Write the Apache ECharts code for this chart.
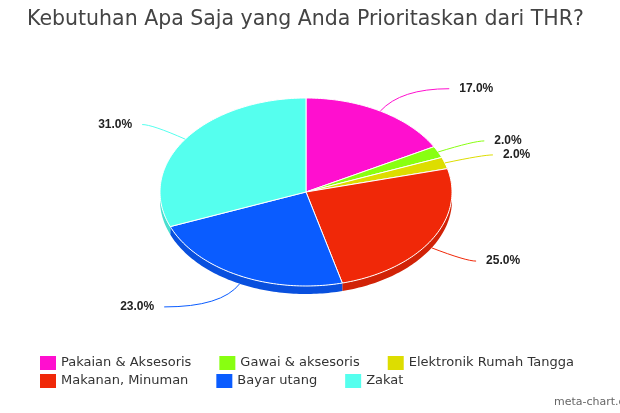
<!DOCTYPE html>
<html lang="id">
<head>
<meta charset="UTF-8">
<title>Prioritas THR</title>
<script src="https://cdn.jsdelivr.net/npm/echarts@6/dist/echarts.min.js"></script>
<style>html,body{margin:0;padding:0;background:#fff}#main{width:620px;height:413px}</style>
</head>
<body>
<div id="main"></div>
<script>
var categories = ['Pakaian & Aksesoris', 'Gawai & aksesoris', 'Elektronik Rumah Tangga', 'Makanan, Minuman', 'Bayar utang', 'Zakat'];
var values = [17, 2, 2, 25, 23, 31];
var colors = ['#ff0fcf', '#88ff11', '#dddd00', '#f02808', '#0a5cff', '#55ffee'];

var chart = echarts.init(document.getElementById('main'));

var total = values.reduce(function (a, b) { return a + b; }, 0);
var starts = [];
values.reduce(function (acc, v, i) { starts[i] = acc; return acc + v; }, 0);

// ellips pie (tampak miring)
var CX = 306, CY = 192, RX = 146, RY = 94, DEPTH = 8;

function pt(a, dy, rx, ry) {
    return [CX + rx * Math.sin(a), CY - ry * Math.cos(a) + dy];
}
function arc(a0, a1, dy) {
    var n = Math.max(2, Math.ceil((a1 - a0) / 0.02));
    var out = [];
    for (var i = 0; i <= n; i++) out.push(pt(a0 + (a1 - a0) * i / n, dy, RX, RY));
    return out;
}
function darken(hex, f) {
    var c = echarts.color.parse(hex);
    return 'rgb(' + Math.round(c[0] * f) + ',' + Math.round(c[1] * f) + ',' + Math.round(c[2] * f) + ')';
}

function renderSlice(idx) {
    return function (params, api) {
        var a0 = starts[idx] / total * 2 * Math.PI;
        var a1 = (starts[idx] + values[idx]) / total * 2 * Math.PI;
        var children = [];
        // sisi depan (3D)
        var s = Math.max(a0, Math.PI / 2), e = Math.min(a1, 3 * Math.PI / 2);
        if (e > s) {
            var top = arc(s, e, 0), bot = arc(s, e, DEPTH).reverse();
            children.push({type: 'polygon', shape: {points: top.concat(bot)},
                style: {fill: darken(colors[idx], 0.87)}});
        }
        // permukaan atas
        children.push({type: 'polygon', shape: {points: [[CX, CY]].concat(arc(a0, a1, 0))},
            style: {fill: colors[idx], stroke: '#fff', lineWidth: 1}});
        // garis label
        var mid = (a0 + a1) / 2;
        var sn = Math.sin(mid), cs = Math.cos(mid);
        var dy = cs < 0 ? DEPTH : 0;
        var sign = sn >= 0 ? 1 : -1;
        var anchor = pt(mid, dy, RX, RY);
        var ctrl = pt(mid, dy, RX + 40, RY + 26);
        var tail = 10 + Math.max(0, 0.75 - Math.abs(sn)) * 160;
        var end = [ctrl[0] + sign * tail, ctrl[1]];
        children.push({type: 'bezierCurve',
            shape: {x1: anchor[0], y1: anchor[1], cpx1: ctrl[0], cpy1: ctrl[1], x2: end[0], y2: end[1]},
            style: {stroke: colors[idx], lineWidth: 1, fill: null}});
        children.push({type: 'text', x: end[0] + sign * 10, y: end[1],
            style: {text: values[idx].toFixed(1) + '%', fill: '#222', fontSize: 12, fontWeight: 'bold',
                fontFamily: 'Liberation Sans', align: sign > 0 ? 'left' : 'right', verticalAlign: 'middle'}});
        return {type: 'group', children: children};
    };
}

var series = categories.map(function (name, i) {
    return {
        type: 'custom',
        name: name,
        coordinateSystem: 'none',
        silent: true,
        itemStyle: {color: colors[i]},
        renderItem: renderSlice(i),
        data: [values[i]]
    };
});

var legendText = {fontFamily: 'DejaVu Sans', fontSize: 13, color: '#333'};
var option = {
    animation: false,
    title: {
        text: 'Kebutuhan Apa Saja yang Anda Prioritaskan dari THR?',
        left: 22, top: 4,
        textStyle: {fontFamily: 'DejaVu Sans', fontSize: 20.5, fontWeight: 'normal', color: '#444'}
    },
    legend: [
        {data: categories.slice(0, 3), left: 35, top: 351, icon: 'rect', itemWidth: 16, itemHeight: 14,
            itemGap: 28, selectedMode: false, textStyle: legendText},
        {data: categories.slice(3), left: 35, top: 369, icon: 'rect', itemWidth: 16, itemHeight: 14,
            itemGap: 28, selectedMode: false, textStyle: legendText}
    ],
    graphic: [{type: 'text', left: 554, top: 397,
        style: {text: 'meta-chart.com', fill: '#666', fontSize: 11, fontFamily: 'DejaVu Sans'}}],
    series: series
};
chart.setOption(option);
</script>
</body>
</html>
